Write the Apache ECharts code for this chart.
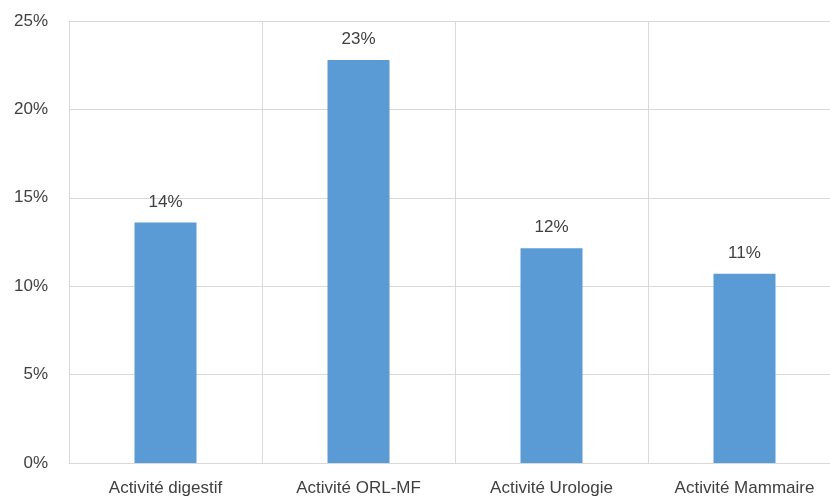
<!DOCTYPE html>
<html>
<head>
<meta charset="utf-8">
<script src="https://cdn.jsdelivr.net/npm/echarts@6/dist/echarts.min.js"></script>
<style>
html,body{margin:0;padding:0;background:#fff;overflow:hidden;width:830px;height:500px;}
#chart{width:845px;height:500px;}
</style>
</head>
<body>
<div id="chart"></div>
<script>
const categories = ['Activité digestif', 'Activité ORL-MF', 'Activité Urologie', 'Activité Mammaire'];
const values = [13.6, 22.8, 12.15, 10.7];
const yTicks = [0, 5, 10, 15, 20, 25];

const chart = echarts.init(document.getElementById('chart'), null, {renderer: 'canvas'});
const font = '"Liberation Sans", Arial, sans-serif';
chart.setOption({
  animation: false,
  backgroundColor: '#ffffff',
  grid: {left: 69, right: 4, top: 21, bottom: 37, containLabel: false},
  xAxis: {
    type: 'category',
    data: categories,
    boundaryGap: true,
    axisLine: {show: true, lineStyle: {color: '#d9d9d9', width: 1}},
    axisTick: {show: false},
    splitLine: {show: true, lineStyle: {color: '#d9d9d9', width: 1}},
    axisLabel: {color: '#404040', fontSize: 17, fontFamily: font, margin: 17, interval: 0}
  },
  yAxis: {
    type: 'value',
    min: yTicks[0],
    max: yTicks[yTicks.length - 1],
    interval: 5,
    axisLine: {show: false},
    axisTick: {show: false},
    splitLine: {show: true, lineStyle: {color: '#d9d9d9', width: 1}},
    axisLabel: {color: '#404040', fontSize: 17, fontFamily: font, margin: 21, formatter: v => v + '%'}
  },
  series: [{
    type: 'bar',
    data: values,
    barWidth: 62,
    itemStyle: {color: '#5B9BD5'},
    label: {
      show: true,
      position: 'top',
      distance: 12,
      color: '#404040',
      fontSize: 17,
      fontFamily: font,
      formatter: p => Math.round(p.value) + '%'
    }
  }]
});
</script>
</body>
</html>
